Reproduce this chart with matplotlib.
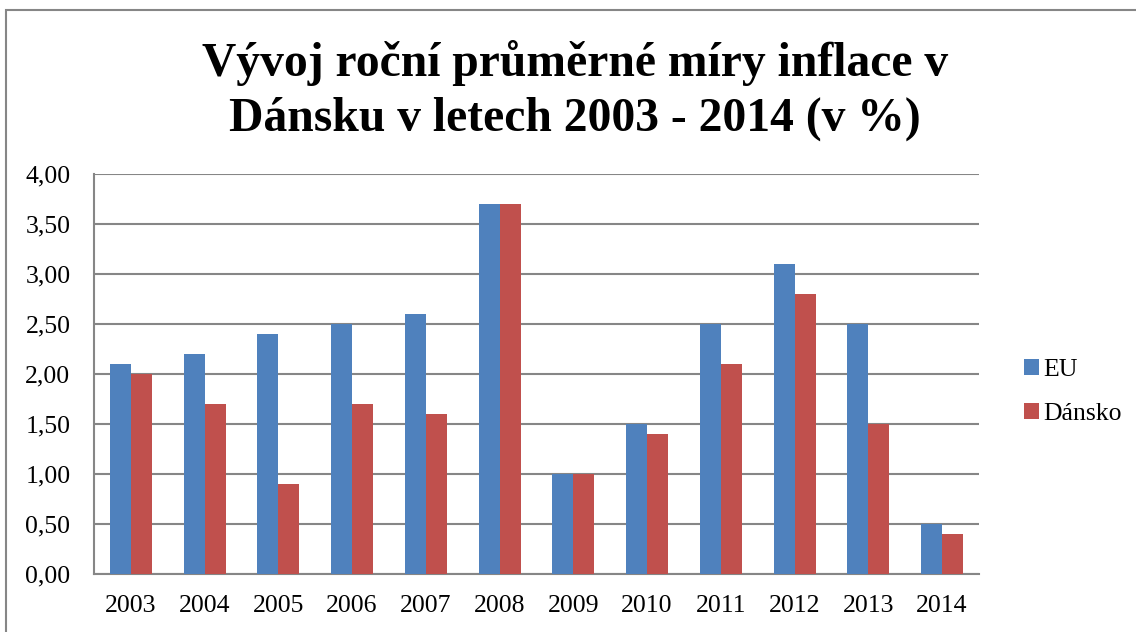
import numpy as np
import matplotlib.pyplot as plt
from matplotlib.patches import Rectangle

# Data
years = ['2003', '2004', '2005', '2006', '2007', '2008',
         '2009', '2010', '2011', '2012', '2013', '2014']
eu = [2.1, 2.2, 2.4, 2.5, 2.6, 3.7, 1.0, 1.5, 2.5, 3.1, 2.5, 0.5]
dansko = [2.0, 1.7, 0.9, 1.7, 1.6, 3.7, 1.0, 1.4, 2.1, 2.8, 1.5, 0.4]
yticks = [0, 0.5, 1, 1.5, 2, 2.5, 3, 3.5, 4]

plt.rcParams['font.family'] = ['Liberation Serif', 'DejaVu Serif']

fig = plt.figure(figsize=(11.36, 6.32), dpi=100)
W, H = 1136, 632
# plot area in pixels: x 94..979, y 174..574
ax = fig.add_axes([94 / W, 1 - 574 / H, (979 - 94) / W, 400 / H])

x = np.arange(len(years))
bw = 0.285
ax.bar(x - bw / 2, eu, bw, color='#4F81BD', label='EU', zorder=3)
ax.bar(x + bw / 2, dansko, bw, color='#C0504D', label='Dánsko', zorder=3)

ax.set_xlim(-0.5, len(years) - 0.5)
ax.set_ylim(0, 4)
ax.set_yticks(yticks)
ax.set_yticklabels([f'{v:.2f}'.replace('.', ',') for v in yticks], fontsize=18.5)
ax.set_xticks(x)
ax.set_xticklabels(years, fontsize=18.5)
ax.tick_params(axis='both', length=0)
ax.tick_params(axis='y', pad=17)
ax.tick_params(axis='x', pad=15)
ax.grid(axis='y', color='#868686', linewidth=1.5, zorder=0)
for s in ['top', 'right']:
    ax.spines[s].set_visible(False)
for s in ['left', 'bottom']:
    ax.spines[s].set_color('#868686')
    ax.spines[s].set_linewidth(1.5)

leg = fig.legend(loc='center left', bbox_to_anchor=(1006 / W, 1 - 392 / H),
                 frameon=False, fontsize=18.5, handlelength=0.6, handleheight=0.6,
                 handletextpad=0.15, labelspacing=0.85, borderpad=0.2)

fig.text(575 / W, 1 - 76 / H, 'Vývoj roční průměrné míry inflace v',
         ha='center', va='baseline', fontsize=34.3, fontweight='bold')
fig.text(575 / W, 1 - 131 / H, 'Dánsku v letech 2003 - 2014 (v %)',
         ha='center', va='baseline', fontsize=34.3, fontweight='bold')

# outer chart border
fig.patches.append(Rectangle((6 / W, -0.05), 1.2, 1 - 10 / H + 0.05,
                             transform=fig.transFigure, fill=False,
                             edgecolor='#868686', linewidth=1.5))

fig.savefig('out.png', dpi=100)
